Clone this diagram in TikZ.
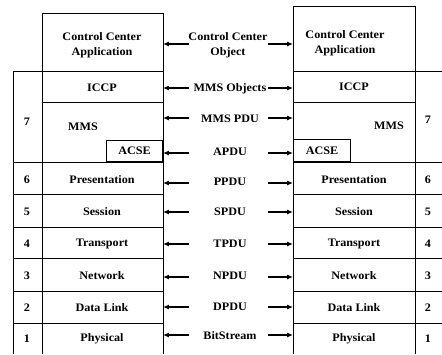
\documentclass[tikz,border=0pt]{standalone}
\usepackage{fontspec}
\setmainfont{Liberation Serif}[FakeStretch=1.06]
\usetikzlibrary{arrows.meta}
\tikzset{
  txt/.style={font=\fontsize{11.5}{13}\selectfont\bfseries, inner sep=0pt, align=center},
  cell/.style={draw=black, line width=0.9pt, inner sep=0pt},
  ln/.style={line width=0.9pt},
  arr/.style={-{Latex[length=6pt,width=5pt]}, line width=1.1pt},
}
\begin{document}
\begin{tikzpicture}[x=1bp,y=-1bp]
\useasboundingbox (0,0) rectangle (442,354);
% ---- left stack ----
\node[cell, minimum width=121bp, minimum height=58bp, anchor=north west] (LApp) at (42,13) {};
\draw[ln] (13,71) -- (163,71);
\draw[ln] (13,71) -- (13,354);
\draw[ln] (42,71) -- (42,354);
\draw[ln] (163,71) -- (163,354);
\draw[ln] (42,102) -- (163,102);
\node[cell, minimum width=56bp, minimum height=21bp, anchor=south east] (LACSE) at (163,162) {};
\foreach \y in {162,194,227,258,291,323} \draw[ln] (13,\y) -- (163,\y);
\coordinate (LE) at (163,0);
% ---- right stack ----
\node[cell, minimum width=122bp, minimum height=65bp, anchor=north west] (RApp) at (293,6) {};
\draw[ln] (293,71) -- (442,71);
\draw[ln] (293,71) -- (293,354);
\draw[ln] (415,71) -- (415,354);
\draw[ln] (293,102) -- (415,102);
\node[cell, minimum width=57bp, minimum height=22bp, anchor=south west] (RACSE) at (293,162) {};
\foreach \y in {162,194,227,258,291,323} \draw[ln] (293,\y) -- (442,\y);
\coordinate (RE) at (293,0);
% ---- layer texts ----
\node[txt] (lapp) at (102,45) {Control Center\\[2pt]Application};
\node[txt] (rapp) at (345,43) {Control Center\\[2pt]Application};
\node[txt] (liccp) at (102,88) {ICCP};
\node[txt] (riccp) at (354,87) {ICCP};
\node[txt] (lmms) at (83,127) {MMS};
\node[txt] (rmms) at (389,126) {MMS};
\node[txt] (lacse) at (LACSE) {ACSE};
\node[txt] (racse) at (RACSE) {ACSE};
\node[txt] (l7) at (27,122) {7};
\node[txt] (r7) at (428,120) {7};
\foreach \n/\t/\y in {6/Presentation/180,5/Session/212,4/Transport/244,3/Network/276,2/Data Link/308,1/Physical/339}{
  \node[txt] (l\n) at (27,\y) {\n};
  \node[txt] (lt\n) at (102,\y) {\t};
  \node[txt] (r\n) at (428,\y) {\n};
  \node[txt] (rt\n) at (354,\y) {\t};
}
% ---- middle labels and arrows ----
\node[txt] (m0) at (228,45) {Control Center\\[2pt]Object};
\foreach \i/\t/\y in {1/MMS Objects/89,2/MMS PDU/119,3/APDU/152,4/PPDU/182,5/SPDU/212,6/TPDU/244,7/NPDU/276,8/DPDU/307,9/BitStream/336}{
  \node[txt] (m\i) at (230,\y) {\t};
}
\foreach \i/\y in {0/44,1/88,2/118,3/153,4/183,5/212,6/244,7/277,8/307,9/335}{
  \coordinate (la\i) at (189,\y);
  \coordinate (ra\i) at (268,\y);
  \draw[arr] (la\i) -- (la\i -| LE);
  \draw[arr] (ra\i) -- (ra\i -| RE);
}
\end{tikzpicture}
\end{document}
